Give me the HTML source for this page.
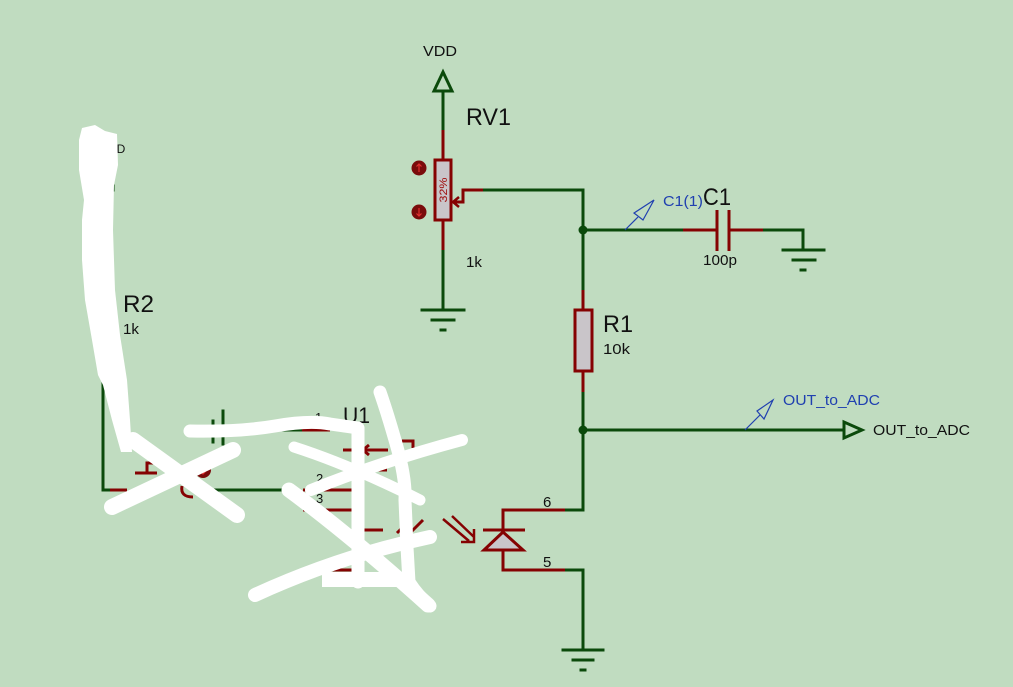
<!DOCTYPE html>
<html><head><meta charset="utf-8"><style>
html,body{margin:0;padding:0;background:#c0dcc0;}
svg{display:block}
text{font-family:"Liberation Sans",sans-serif;}
</style></head><body>
<svg width="1013" height="687" viewBox="0 0 1013 687" xmlns="http://www.w3.org/2000/svg">
<rect width="1013" height="687" fill="#c0dcc0"/>

<!-- green wires -->
<g fill="none" stroke="#0b4a0b" stroke-width="3" stroke-linecap="square">
 <path d="M443 91V130"/>
 <path d="M434 91L443 72L452 91Z" stroke-linejoin="miter"/>
 <path d="M443 250V310"/>
 <path d="M422 310H464M432 320H454M441 330H445"/>
 <path d="M483 190H583V290"/>
 <path d="M583 392V510H565"/>
 <path d="M565 570H583V650"/>
 <path d="M563 650H603M573 660H593M581 670H585"/>
 <path d="M583 230H683"/>
 <path d="M763 230H803V250"/>
 <path d="M783 250H824M793 260H815M801 270H805"/>
 <path d="M583 430H843"/>
 <path d="M844 422V438L862 430Z" stroke-linejoin="miter"/>
 <path d="M103 380V490H110"/>
 <path d="M210 490H290"/>
 <path d="M273 430H302"/>
 <path d="M213 421V442M223 411V444"/>
 <path d="M113 186V190"/>
</g>
<circle cx="583" cy="230" r="4.5" fill="#0b4a0b"/>
<circle cx="583" cy="430" r="4.5" fill="#0b4a0b"/>

<!-- red component parts -->
<g fill="none" stroke="#850202" stroke-width="3">
 <path d="M443 130V159M443 221V250"/>
 <rect x="435" y="160" width="16" height="60" fill="#c9c5c9"/>
 <path d="M483 190H463V202H454"/>
 <path d="M459 197L453 202L459 207" stroke-width="2.5"/>
 <path d="M683 230H717M729 230H763"/>
 <path d="M717 210V251M729 210V251"/>
 <path d="M583 290V310M583 371V392"/>
 <rect x="575" y="310" width="17" height="61" fill="#c9c5c9"/>
 <path d="M565 510H503V530M483 530H525"/>
 <path d="M503 532L484 550H523Z" fill="#c9c5c9"/>
 <path d="M503 550V570H565"/>
 <path d="M443 519L469 541M452 516L474 537M461 542H474V529" stroke-width="2.5"/>
 <path d="M110 490H127M302 430H330"/>
 <path d="M135 473H157M147 473V463H157"/>
 <path d="M182 486Q180 497 193 497"/>
 <path d="M303 490H352M303 510H352M343 450H388M363 450V488"/>
 <path d="M369 445L363 450L369 455"/>
 <path d="M373 470H387M402 441H413V448"/>
 <path d="M363 510V530H383M363 550V570H317"/>
 <path d="M397 533L410 520M410 533L423 520"/>
</g>

<!-- red probe dots -->
<circle cx="419" cy="168" r="7.5" fill="#7a0b0b"/>
<circle cx="419" cy="212" r="7.5" fill="#7a0b0b"/>
<circle cx="203" cy="470" r="8" fill="#7a0b0b"/>
<g stroke="#e03030" stroke-width="1.2" fill="none">
 <path d="M419 172V164M416.5 166.5L419 164L421.5 166.5"/>
 <path d="M419 208V216M416.5 213.5L419 216L421.5 213.5"/>
 <path d="M203 466V474M200.5 471.5L203 474L205.5 471.5"/>
</g>
<text transform="translate(447,190) rotate(-90)" text-anchor="middle" font-size="11" fill="#a01010" textLength="25" lengthAdjust="spacingAndGlyphs">32%</text>

<!-- blue probes -->
<g fill="none" stroke="#2040b0" stroke-width="1.2">
 <path d="M625 230L638 217"/>
 <path d="M654 200L634 213L643 220Z"/>
 <path d="M745 430L760 415"/>
 <path d="M773 400L757 411L764 419Z"/>
</g>

<!-- text labels -->
<g fill="#111">
 <text x="423" y="56" font-size="15" textLength="34" lengthAdjust="spacingAndGlyphs">VDD</text>
 <text x="466" y="125" font-size="24" textLength="45" lengthAdjust="spacingAndGlyphs">RV1</text>
 <text x="466" y="267" font-size="15" textLength="16" lengthAdjust="spacingAndGlyphs">1k</text>
 <text x="703" y="205" font-size="24" textLength="28" lengthAdjust="spacingAndGlyphs">C1</text>
 <text x="703" y="265" font-size="15" textLength="34" lengthAdjust="spacingAndGlyphs">100p</text>
 <text x="603" y="332" font-size="24" textLength="30" lengthAdjust="spacingAndGlyphs">R1</text>
 <text x="603" y="354" font-size="15" textLength="27" lengthAdjust="spacingAndGlyphs">10k</text>
 <text x="873" y="435" font-size="15" textLength="97" lengthAdjust="spacingAndGlyphs">OUT_to_ADC</text>
 <text x="543" y="507" font-size="15">6</text>
 <text x="543" y="567" font-size="15">5</text>
 <text x="123" y="312" font-size="24" textLength="31" lengthAdjust="spacingAndGlyphs">R2</text>
 <text x="123" y="334" font-size="15" textLength="16" lengthAdjust="spacingAndGlyphs">1k</text>
 <text x="343" y="423" font-size="22" textLength="27" lengthAdjust="spacingAndGlyphs">U1</text>
 <text x="315" y="422" font-size="13">1</text>
 <text x="316" y="483" font-size="13">2</text>
 <text x="316" y="503" font-size="13">3</text>
 <text x="340" y="585" font-size="13" textLength="57" lengthAdjust="spacingAndGlyphs">UONR2</text>
 <text x="100" y="153" font-size="12">VDD</text>
</g>
<g fill="#2040b0">
 <text x="663" y="206" font-size="15" textLength="40" lengthAdjust="spacingAndGlyphs">C1(1)</text>
 <text x="783" y="405" font-size="15" textLength="97" lengthAdjust="spacingAndGlyphs">OUT_to_ADC</text>
</g>

<!-- white scribbles -->
<path d="M82 128L95 125L105 131L117 134L118 165L114 185L113 230L115 290L120 335L127 380L130 420L132 452L121 452L112 420L103 385L98 375L92 340L85 300L82 260L82 220L84 200L79 170L79 140Z" fill="#fff"/>
<g fill="none" stroke="#fff" stroke-linecap="round" stroke-linejoin="round">
 <path d="M133 440L237 515" stroke-width="16"/>
 <path d="M112 507L233 450" stroke-width="16"/>
 <path d="M190 431Q240 432 275 426T330 424L358 428L358 582" stroke-width="13"/>
 <path d="M380 392Q388 415 397 447T405 500L407 547L409 582Q418 596 430 606" stroke-width="13"/>
 <path d="M294 447Q350 465 420 500" stroke-width="11"/>
 <path d="M311 490Q380 462 462 440" stroke-width="12"/>
 <path d="M289 490Q350 535 428 605" stroke-width="15"/>
 <path d="M255 595Q340 556 430 537" stroke-width="14"/>
</g>
<rect x="322" y="572" width="78" height="15" fill="#fff"/>
</svg>
</body></html>
